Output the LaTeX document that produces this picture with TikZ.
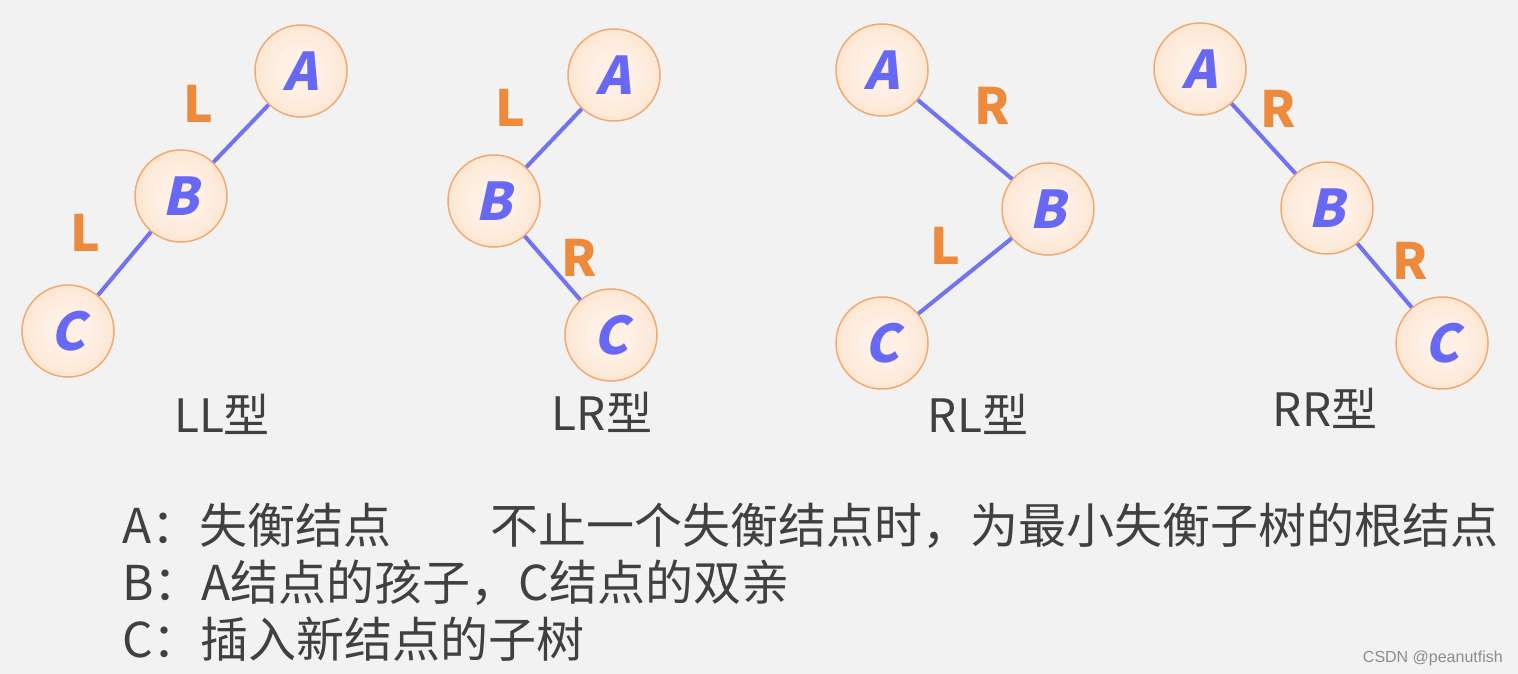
\documentclass[tikz,border=0pt]{standalone}
\usepackage{fontspec}
\setmainfont{Noto Sans CJK SC}
\newfontfamily\nodefont{Noto Sans CJK SC}[BoldFeatures={FakeSlant=0.22}]
\newfontfamily\wmfont{Liberation Sans}
\definecolor{bgc}{HTML}{F2F2F2}
\definecolor{nodein}{HTML}{FEF0E4}
\definecolor{nodemid}{HTML}{FCE0C8}
\definecolor{nodeout}{HTML}{F8C496}
\definecolor{nodeline}{HTML}{F0AA72}
\definecolor{letterc}{HTML}{6868F6}
\definecolor{edgec}{HTML}{7272F2}
\definecolor{labc}{HTML}{EE8A3C}
\definecolor{txtc}{HTML}{404040}
\definecolor{wmc}{HTML}{8C8C8C}
\pgfdeclareradialshading{nodeshade}{\pgfpoint{0bp}{0bp}}{%
  color(0bp)=(nodein); color(12bp)=(nodein); color(34bp)=(nodemid); color(50bp)=(nodeout); color(100bp)=(nodeout)}
\tikzset{
  tnode/.style={circle, minimum size=92pt, inner sep=0pt, draw=nodeline, line width=1.5pt,
    shading=nodeshade, text=letterc,
    font=\nodefont\bfseries\fontsize{52}{52}\selectfont},
  tedge/.style={draw=edgec, line width=4pt},
  elab/.style={text=labc, inner sep=0pt, font=\bfseries\fontsize{50}{50}\selectfont},
  typelab/.style={text=txtc, inner sep=0pt, anchor=base, font=\fontsize{46}{46}\selectfont},
  desc/.style={text=txtc, inner sep=0pt, anchor=base west, font=\fontsize{48}{57}\selectfont},
}
\begin{document}
\begin{tikzpicture}[x=1pt,y=-1pt]
\fill[bgc] (0,0) rectangle (1518,674);
\useasboundingbox (0,0) rectangle (1518,674);
% LL
\node[tnode] (llA) at (301,71) {A};
\node[tnode] (llB) at (181,196) {B};
\node[tnode] (llC) at (68,331) {C};
\draw[tedge] (llA) -- (llB);
\draw[tedge] (llB) -- (llC);
\node[elab] (llL1) at (198,104) {L};
\node[elab] (llL2) at (85,233) {L};
\node[typelab] (llT) at (222,432) {LL型};
% LR
\node[tnode] (lrA) at (614,75) {A};
\node[tnode] (lrB) at (494,201) {B};
\node[tnode] (lrC) at (611,335) {C};
\draw[tedge] (lrA) -- (lrB);
\draw[tedge] (lrB) -- (lrC);
\node[elab] (lrL) at (510,108) {L};
\node[elab] (lrR) at (579,258) {R};
\node[typelab] (lrT) at (602,430) {LR型};
% RL
\node[tnode] (rlA) at (882,70) {A};
\node[tnode] (rlB) at (1048,209) {B};
\node[tnode] (rlC) at (882,343) {C};
\draw[tedge] (rlA) -- (rlB);
\draw[tedge] (rlB) -- (rlC);
\node[elab] (rlR) at (992,106) {R};
\node[elab] (rlL) at (945,246) {L};
\node[typelab] (rlT) at (978,432) {RL型};
% RR
\node[tnode] (rrA) at (1200,69) {A};
\node[tnode] (rrB) at (1327,208) {B};
\node[tnode] (rrC) at (1442,343) {C};
\draw[tedge] (rrA) -- (rrB);
\draw[tedge] (rrB) -- (rrC);
\node[elab] (rrR1) at (1278,109) {R};
\node[elab] (rrR2) at (1410,261) {R};
\node[typelab] (rrT) at (1325,426) {RR型};
% description
\node[desc] (d1) at (122,543) {A：失衡结点};
\node[desc] (d1b) at (490,543) {不止一个失衡结点时，为最小失衡子树的根结点};
\node[desc] (d2) at (122,600) {B：A结点的孩子，C结点的双亲};
\node[desc] (d3) at (122,657) {C：插入新结点的子树};
\node[text=wmc, inner sep=0pt, anchor=base east, font=\wmfont\fontsize{16}{16}\selectfont] (wm) at (1503,662) {CSDN @peanutfish};
\end{tikzpicture}
\end{document}
